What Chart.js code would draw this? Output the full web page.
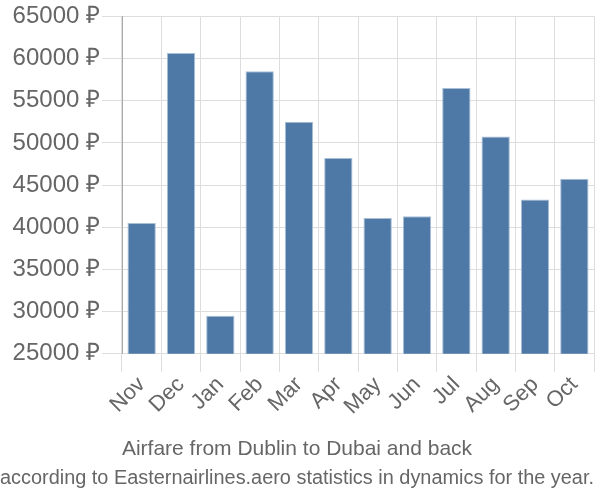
<!DOCTYPE html>
<html>
<head>
<meta charset="utf-8">
<script src="https://cdn.jsdelivr.net/npm/chart.js@4"></script>
<style>
  html, body { margin: 0; padding: 0; background: #ffffff; }
  #wrap { width: 600px; height: 500px; }
</style>
</head>
<body>
<div id="wrap"><canvas id="chart"></canvas></div>
<script>
const MESES = ["Nov", "Dec", "Jan", "Feb", "Mar", "Apr", "May", "Jun", "Jul", "Aug", "Sep", "Oct"];
const PRECIOS = [40500, 60650, 29500, 58500, 52500, 48200, 41100, 41300, 56500, 50750, 43300, 45750];
const Y_MIN = 25000;
const Y_MAX = 65000;
const Y_PASO = 5000;

Chart.defaults.font.family = "'Liberation Sans', Arial, sans-serif";
Chart.defaults.color = "#666666";

// con position "bottom" el title queda debajo del subtitle, por eso van cruzados
new Chart(document.getElementById("chart"), {
  type: "bar",
  data: {
    labels: MESES,
    datasets: [
      {
        data: PRECIOS,
        backgroundColor: "#4e79a7",
        borderColor: "#a9bfd6",
        borderWidth: 1
      }
    ]
  },
  options: {
    responsive: true,
    maintainAspectRatio: false,
    animation: false,
    layout: {
      padding: { left: 0, right: 6, top: 0, bottom: 6 }
    },
    plugins: {
      legend: { display: false },
      tooltip: { enabled: false },
      subtitle: {
        display: true,
        position: "bottom",
        text: "Airfare from Dublin to Dubai and back",
        color: "#666666",
        font: { size: 21, weight: "normal" },
        padding: { top: 17, bottom: 4 }
      },
      title: {
        display: true,
        position: "bottom",
        text: "according to Easternairlines.aero statistics in dynamics for the year.",
        color: "#666666",
        font: { size: 20, weight: "normal" },
        padding: { top: 0, bottom: 4 }
      }
    },
    scales: {
      x: {
        grid: {
          color: "#dddddd",
          lineWidth: 1,
          tickLength: 18
        },
        border: { color: "#dddddd" },
        ticks: {
          color: "#666666",
          font: { size: 22 },
          maxRotation: 45,
          minRotation: 45,
          autoSkip: false,
          padding: 0
        }
      },
      y: {
        min: Y_MIN,
        max: Y_MAX,
        grid: {
          color: "#dddddd",
          tickLength: 20
        },
        border: { color: "#aaaaaa" },
        afterFit: (escala) => { escala.width = 122; },
        ticks: {
          stepSize: Y_PASO,
          color: "#666666",
          font: { size: 24 },
          padding: 2,
          callback: (v) => `${v} ₽`
        }
      }
    }
  }
});
</script>
</body>
</html>
